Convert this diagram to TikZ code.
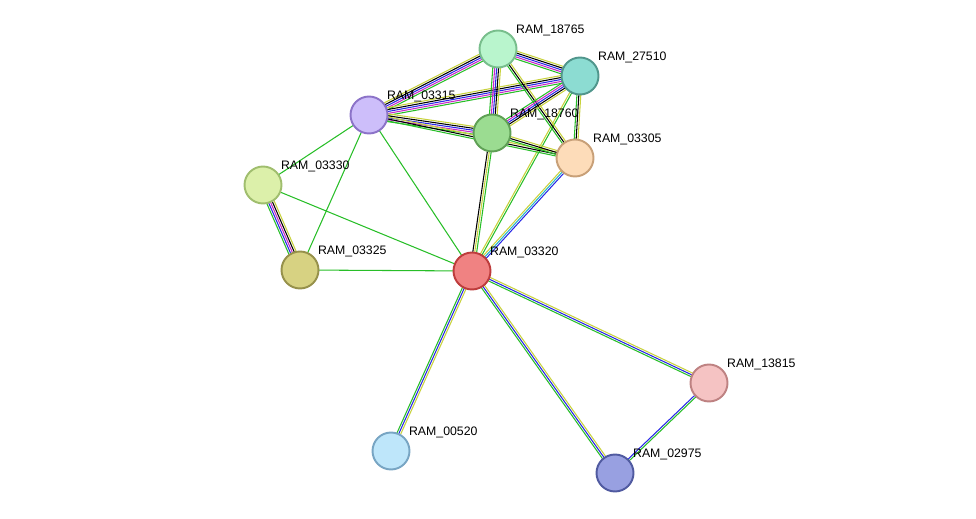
\documentclass[tikz,border=0pt]{standalone}
\usepackage{fontspec}
\setmainfont{Liberation Sans}
\usetikzlibrary{calc, backgrounds}
\definecolor{eGreen}{RGB}{40,190,40}
\definecolor{eBlue}{RGB}{40,40,230}
\definecolor{eYel}{RGB}{200,210,60}
\definecolor{eMag}{RGB}{200,40,200}
\definecolor{eCyan}{RGB}{40,180,200}
\tikzstyle{prot} = [circle, minimum size=0.74cm, inner sep=0pt, line width=1.1pt]
\tikzstyle{lab} = [font=\fontsize{7}{9}\selectfont, inner sep=0pt, xshift=0.08cm, yshift=-0.02cm]
\newcommand\links[4]{%
  \foreach \c [count=\i] in {#4}{%
    \draw[\c, line width=0.6pt] ($(#1)!{(\i-(#3+1)/2)*1.1pt}!90:(#2)$) -- ($(#2)!{(\i-(#3+1)/2)*1.1pt}!-90:(#1)$);}}

\begin{document}
\begin{tikzpicture}[x=0.02cm, y=-0.02cm]
\useasboundingbox (0,0) rectangle (976,519);

\node (r18765) [prot, draw={rgb,255:red,120;green,190;blue,140}, fill={rgb,255:red,185;green,245;blue,205}, label={[lab]45:RAM\_18765}] at (498,49) {};
\node (r27510) [prot, draw={rgb,255:red,80;green,150;blue,140}, fill={rgb,255:red,140;green,220;blue,210}, label={[lab]45:RAM\_27510}] at (580,76) {};
\node (r03315) [prot, draw={rgb,255:red,140;green,115;blue,200}, fill={rgb,255:red,205;green,190;blue,250}, label={[lab]45:RAM\_03315}] at (369,115) {};
\node (r18760) [prot, draw={rgb,255:red,95;green,160;blue,85}, fill={rgb,255:red,155;green,220;blue,145}, label={[lab]45:RAM\_18760}] at (492,133) {};
\node (r03305) [prot, draw={rgb,255:red,200;green,160;blue,120}, fill={rgb,255:red,253;green,220;blue,185}, label={[lab]45:RAM\_03305}] at (575,158) {};
\node (r03330) [prot, draw={rgb,255:red,160;green,190;blue,110}, fill={rgb,255:red,220;green,240;blue,170}, label={[lab]45:RAM\_03330}] at (263,185) {};
\node (r03325) [prot, draw={rgb,255:red,150;green,145;blue,75}, fill={rgb,255:red,215;green,210;blue,130}, label={[lab]45:RAM\_03325}] at (300,270) {};
\node (r03320) [prot, draw={rgb,255:red,190;green,60;blue,60}, fill={rgb,255:red,240;green,130;blue,130}, label={[lab]45:RAM\_03320}] at (472,271) {};
\node (r13815) [prot, draw={rgb,255:red,190;green,130;blue,130}, fill={rgb,255:red,245;green,195;blue,195}, label={[lab]45:RAM\_13815}] at (709,383) {};
\node (r00520) [prot, draw={rgb,255:red,120;green,165;blue,195}, fill={rgb,255:red,190;green,230;blue,250}, label={[lab]45:RAM\_00520}] at (391,451) {};
\node (r02975) [prot, draw={rgb,255:red,80;green,90;blue,160}, fill={rgb,255:red,152;green,160;blue,225}, label={[lab]45:RAM\_02975}] at (615,473) {};

\begin{scope}[on background layer]
\links{r03320}{r03330}{1}{eGreen}
\links{r03320}{r03325}{1}{eGreen}
\links{r03320}{r03315}{1}{eGreen}
\links{r03325}{r03315}{1}{eGreen}
\links{r03330}{r03315}{1}{eGreen}
\links{r03330}{r03325}{5}{eGreen,eBlue,eMag,black,eYel}
\links{r03320}{r18760}{3}{eGreen,eYel,black}
\links{r03320}{r27510}{2}{eGreen,eYel}
\links{r03320}{r03305}{3}{eBlue,eCyan,eYel}
\links{r03320}{r13815}{3}{eGreen,eBlue,eYel}
\links{r03320}{r02975}{3}{eGreen,eBlue,eYel}
\links{r03320}{r00520}{3}{eGreen,eBlue,eYel}
\links{r13815}{r02975}{2}{eBlue,eGreen}
\links{r03315}{r18765}{5}{eGreen,eMag,eBlue,black,eYel}
\links{r03315}{r27510}{5}{eGreen,eMag,eBlue,black,eYel}
\links{r03315}{r18760}{5}{eGreen,eMag,eBlue,black,eYel}
\links{r03315}{r03305}{3}{eGreen,black,eYel}
\links{r18765}{r27510}{5}{eGreen,eMag,eBlue,black,eYel}
\links{r18765}{r18760}{5}{eGreen,eMag,eBlue,black,eYel}
\links{r18765}{r03305}{3}{eGreen,black,eYel}
\links{r27510}{r18760}{5}{eGreen,eMag,eBlue,black,eYel}
\links{r27510}{r03305}{3}{eGreen,black,eYel}
\links{r18760}{r03305}{3}{eGreen,black,eYel}
\end{scope}

\end{tikzpicture}
\end{document}
